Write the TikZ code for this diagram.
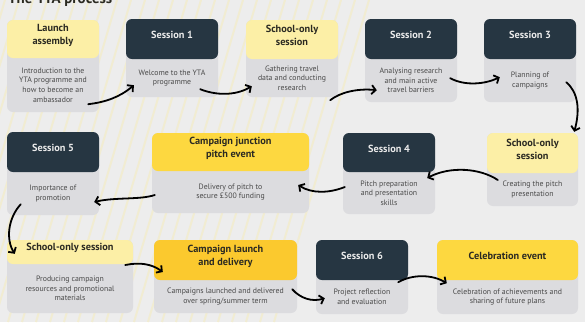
\documentclass[tikz,border=0pt]{standalone}
\usepackage{fontspec}
\setmainfont{PT Sans}
\usetikzlibrary{arrows.meta,fit,calc}
\definecolor{bg}{HTML}{EDEDED}
\definecolor{stripe}{HTML}{F1ECD2}
\definecolor{dark}{HTML}{263642}
\definecolor{lightyel}{HTML}{FCEFA6}
\definecolor{yel}{HTML}{FDD840}
\definecolor{orangeyel}{HTML}{FBC92E}
\definecolor{graybody}{HTML}{DCDCDF}
\definecolor{headtxt}{HTML}{2B2A22}
\definecolor{bodytxt}{HTML}{4A4A4A}
\newcommand\ytastep[9]{%
  \node[bodybox, fit={(#2,#3) (#4,#6)}] (#1) {};
  \node[#7, fit={(#2,#3) (#4,#5)}] (#1h) {#8};
  \node[bodytext] (#1t) at ($(#2,#5)!0.5!(#4,#6)$) {#9};
}
\begin{document}
\begin{tikzpicture}[x=1pt,y=-1pt,
  bodybox/.style={fill=graybody, rounded corners=6pt, inner sep=0pt},
  headbase/.style={rounded corners=6pt, inner sep=0pt, align=center,
    font=\bfseries\fontsize{10.3}{13}\selectfont},
  hdark/.style={headbase, fill=dark, text=white!92!black},
  hlight/.style={headbase, fill=lightyel, text=headtxt},
  hyel/.style={headbase, fill=yel, text=headtxt},
  horange/.style={headbase, fill=orangeyel, text=headtxt},
  bodytext/.style={align=center, text=bodytxt, inner sep=0pt,
    font=\fontsize{7.8}{9.6}\selectfont},
  conn/.style={line width=1.8pt, line cap=round,
    -{Straight Barb[length=4pt,width=9pt,line width=1.8pt]}},
  stripeline/.style={draw=stripe, line width=2pt}]
\useasboundingbox (0,0) rectangle (585,322);
\fill[bg] (0,0) rectangle (585,322);
\begin{scope}
  \clip (0,0) rectangle (585,322);
  \foreach \i in {0,...,26}
    \draw[stripeline] ({-90+\i*14},322) -- ({-90+\i*14+95},0);
\end{scope}
\node[anchor=base west, font=\bfseries\fontsize{15}{18}\selectfont, text=headtxt, inner sep=0pt] (title) at (8,3) {The YTA process};

\ytastep{la}{7}{20}{99}{58}{112}{hlight}{Launch\\assembly}{Introduction to the\\YTA programme and\\how to become an\\ambassador}
\ytastep{sa}{126}{19}{218}{59}{97}{hdark}{Session 1}{Welcome to the YTA\\programme}
\ytastep{sb}{246}{20}{338}{59}{97}{hlight}{School-only\\session}{Gathering travel\\data and conducting\\research}
\ytastep{sc}{365}{19}{457}{59}{102}{hdark}{Session 2}{Analysing research\\and main active\\travel barriers}
\ytastep{sd}{484}{19}{576}{59}{102}{hdark}{Session 3}{Planning of\\campaigns}
\ytastep{se}{487}{133}{578}{173}{206}{hlight}{School-only\\session}{Creating the pitch\\presentation}
\ytastep{sf}{343}{133}{435}{172}{214}{hdark}{Session 4}{Pitch preparation\\and presentation\\skills}
\ytastep{cj}{152}{133}{309}{171}{213}{hyel}{Campaign junction\\pitch event}{Delivery of pitch to\\secure £500 funding}
\ytastep{sg}{7}{132}{99}{172}{215}{hdark}{Session 5}{Importance of\\promotion}
\ytastep{sh}{7}{240}{133}{264}{313}{hlight}{School-only session}{Producing campaign\\resources and promotional\\materials}
\ytastep{cl}{154}{240}{297}{280}{313}{horange}{Campaign launch\\and delivery}{Campaigns launched and delivered\\over spring/summer term}
\ytastep{si}{316}{240}{408}{280}{314}{hdark}{Session 6}{Project reflection\\and evaluation}
\ytastep{ce}{437}{240}{578}{280}{314}{hyel}{Celebration event}{Celebration of achievements and\\sharing of future plans}

\draw[conn] ($(la.south east)+(-11,-8)$) .. controls +(17,-2) and +(-14,12) .. ($(sa.south west)+(8,-12)$);
\draw[conn] ($(sa.south east)+(-18,-8)$) .. controls +(15,6) and +(-17,10) .. ($(sb.south west)+(6,-11)$);
\draw[conn] ($(sb.south east)+(-8,3)$) .. controls +(10,-8) and +(-19,-2) .. ($(sc.south west)+(12,-12)$);
\draw[conn] ($(sc.south east)+(-7,-24)$) .. controls +(15,8) and +(-15,7) .. ($(sd.south west)+(16,-25)$);
\draw[conn] ($(sd.south east)+(-10,-20)$) .. controls +(12,10) and +(6,-22) .. ($(se.north east)+(-4,-1)$);
\draw[conn] ($(se.west)+(11,10.5)$) .. controls +(-18,-12) and +(23,-12) .. ($(sf.east)+(-8,4.5)$);
\draw[conn] ($(sf.west)+(2,13.5)$) .. controls +(-15,6) and +(14,9) .. ($(cj.east)+(-11,12)$);
\draw[conn] ($(cj.west)+(3,22)$) .. controls +(-15,5) and +(21,-5) .. ($(sg.east)+(-5,28.5)$);
\draw[conn] ($(sg.south west)+(14,-11)$) .. controls +(-13,14) and +(-9,-14) .. ($(sh.north west)+(8,14)$);
\draw[conn] ($(sh.east)+(-8,-11.5)$) .. controls +(15,-3) and +(-11,-8) .. ($(cl.west)+(9,-4.5)$);
\draw[conn] ($(cl.south east)+(-5,-24)$) .. controls +(8,9) and +(-13,4) .. ($(si.south west)+(9,-16)$);
\draw[conn] ($(si.south east)+(-10,-32)$) .. controls +(14,-8) and +(-15,-9) .. ($(ce.south west)+(10,-31)$);
\end{tikzpicture}
\end{document}
